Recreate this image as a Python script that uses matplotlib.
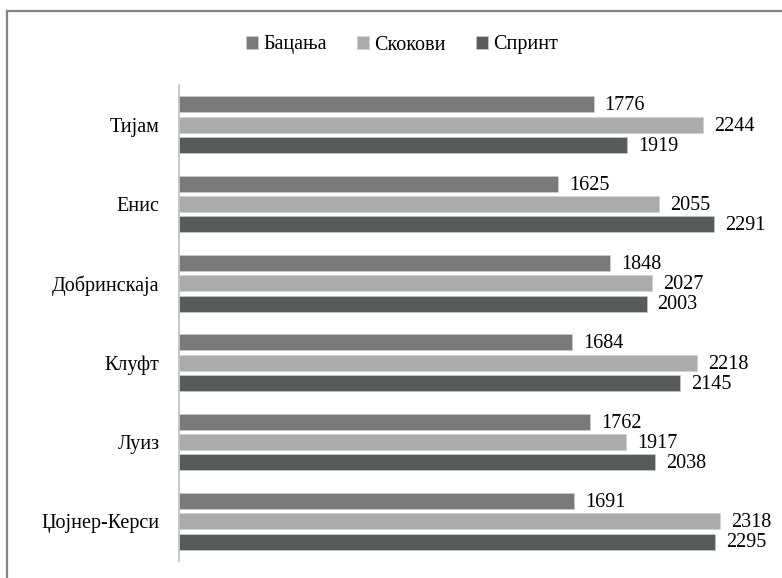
import numpy as np
import matplotlib
matplotlib.use("Agg")
import matplotlib.pyplot as plt
from matplotlib.lines import Line2D

plt.rcParams['font.family'] = ['Liberation Serif', 'DejaVu Serif']

# data
athletes = ["Тијам", "Енис", "Добринскаја", "Клуфт", "Луиз", "Џојнер-Керси"]
series_names = ["Бацања", "Скокови", "Спринт"]
bacanja = [1776, 1625, 1848, 1684, 1762, 1691]
skokovi = [2244, 2055, 2027, 2218, 1917, 2318]
sprint = [1919, 2291, 2003, 2145, 2038, 2295]

colors = ["#787a7c", "#a9abac", "#585b5b"]
W, H = 782, 578

fig = plt.figure(figsize=(W / 100, H / 100), dpi=100)
fig.patch.set_facecolor("white")

# axes placed in pixel terms
left, right, top, bottom = 179, 762.5, 85, 561
ax = fig.add_axes([left / W, 1 - bottom / H, (right - left) / W, (bottom - top) / H])

y = np.arange(len(athletes))
step = 0.255
height = 0.203
for i, (vals, name, col) in enumerate(zip([bacanja, skokovi, sprint], series_names, colors)):
    pos = y + (i - 1) * step
    bars = ax.barh(pos, vals, height=height, color=col, label=name, edgecolor="#d0d0d0", linewidth=0.4)
    for b, v in zip(bars, vals):
        ax.annotate(str(v), xy=(v, b.get_y() + b.get_height() / 2),
                    xytext=(8, -1), textcoords="offset points",
                    va="center", ha="left", fontsize=14.5, color="black")

ax.set_xlim(0, 2500)
ax.set_ylim(len(athletes) - 0.5, -0.5)
ax.set_yticks(y)
ax.set_yticklabels(athletes, fontsize=14.5)
ax.tick_params(axis="y", length=0, pad=14)
ax.xaxis.set_visible(False)
for s in ["top", "right", "bottom"]:
    ax.spines[s].set_visible(False)
ax.spines["left"].set_color("#bfbfbf")
ax.spines["left"].set_linewidth(1.2)

ax.legend(loc="center", bbox_to_anchor=(402 / W, 1 - 45 / H), bbox_transform=fig.transFigure,
          ncol=3, frameon=False, fontsize=14.5, handlelength=0.6, handleheight=0.6,
          handletextpad=0.25, columnspacing=1.5)

# outer border (only top and left visible, rest cropped)
fig.add_artist(Line2D([7 / W, 7 / W], [0, 1 - 11 / H], transform=fig.transFigure,
                      color="#858585", linewidth=1.6))
fig.add_artist(Line2D([7 / W, 1], [1 - 11 / H, 1 - 11 / H], transform=fig.transFigure,
                      color="#858585", linewidth=1.6))

fig.savefig("out.png", dpi=100, facecolor="white")
